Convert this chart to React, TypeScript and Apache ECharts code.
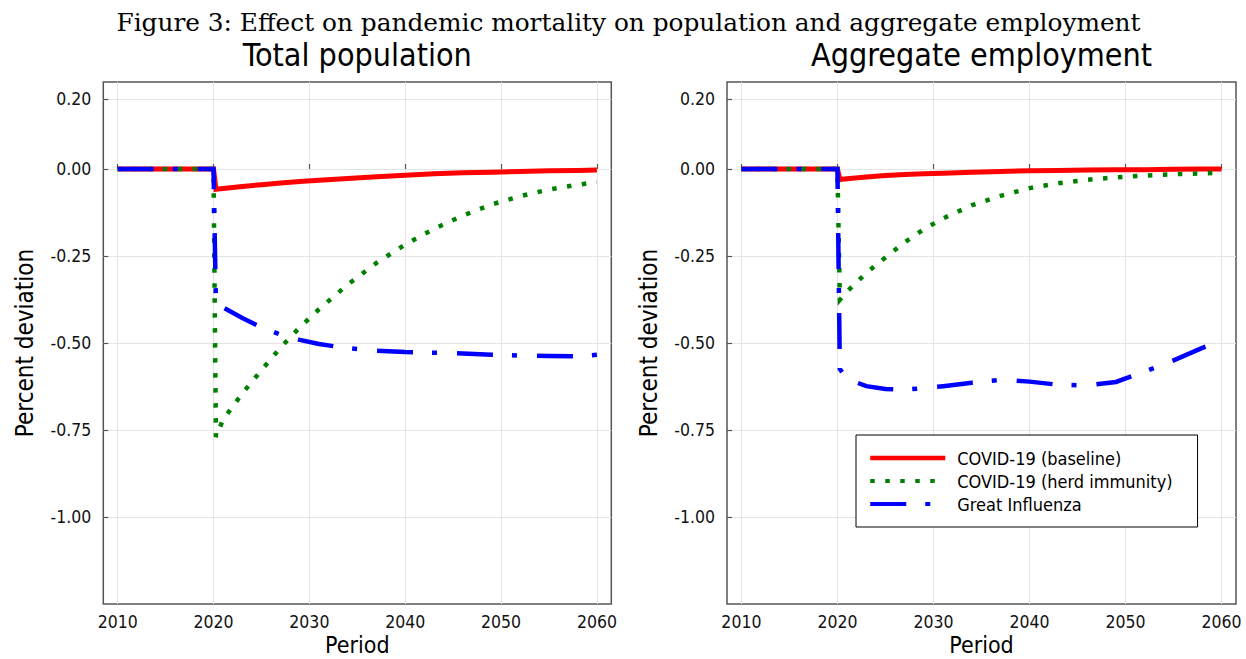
import React, { useEffect, useRef } from 'react';
import * as echarts from 'echarts';

const FIG_TITLE = 'Figure 3: Effect on pandemic mortality on population and aggregate employment';
const PANEL_TITLES = ['Total population', 'Aggregate employment'];
const SERIES_NAMES = ['COVID-19 (baseline)', 'COVID-19 (herd immunity)', 'Great Influenza'];
const X_NAME = 'Period';
const Y_NAME = 'Percent deviation';
const X_TICKS = [2010, 2020, 2030, 2040, 2050, 2060];
const Y_TICKS = [-1, -0.75, -0.5, -0.25, 0, 0.2];

const YEARS = [2010, 2020, 2020.25, 2021, 2023, 2025, 2027, 2029, 2031, 2034, 2037, 2040, 2043, 2046, 2049, 2052, 2055, 2058, 2060];

// Total population
const popBaseline = [0, 0, -0.058, -0.056, -0.050, -0.045, -0.040, -0.036, -0.032, -0.027, -0.022, -0.018, -0.014, -0.011, -0.009, -0.007, -0.005, -0.004, -0.003];
const popHerd = [0, 0, -0.770, -0.720, -0.645, -0.578, -0.513, -0.455, -0.403, -0.332, -0.270, -0.217, -0.172, -0.134, -0.102, -0.078, -0.059, -0.045, -0.038];
const popFlu = [0, 0, -0.385, -0.398, -0.428, -0.455, -0.476, -0.491, -0.503, -0.515, -0.522, -0.526, -0.528, -0.530, -0.534, -0.536, -0.537, -0.538, -0.534];

// Aggregate employment
const empBaseline = [0, 0, -0.030, -0.028, -0.023, -0.019, -0.016, -0.014, -0.012, -0.009, -0.007, -0.005, -0.004, -0.003, -0.002, -0.002, -0.001, 0.0, 0.0];
const empHerd = [0, 0, -0.376, -0.352, -0.299, -0.254, -0.211, -0.173, -0.142, -0.104, -0.077, -0.055, -0.041, -0.031, -0.024, -0.019, -0.015, -0.0125, -0.011];
const empFlu = [0, 0, -0.575, -0.603, -0.624, -0.632, -0.634, -0.630, -0.624, -0.614, -0.606, -0.611, -0.620, -0.622, -0.612, -0.582, -0.550, -0.514, -0.493];

const PANELS = [
  [popBaseline, popHerd, popFlu],
  [empBaseline, empHerd, empFlu],
];

const SANS = "'DejaVu Sans Condensed', 'DejaVu Sans', sans-serif";
const SERIF = "'DejaVu Serif', serif";
const COLORS = ['#ff0000', '#008000', '#0000ff'];
const WIDTHS = [5, 4.5, 4.5];
const DASHES: any[] = ['solid', [4.5, 10.5], [36, 19, 5, 20]];
const FRAME = '#555555';
const GRIDLINE = '#e4e4e4';

const GRIDS = [
  { left: 103.3, top: 82, width: 508, height: 522 },
  { left: 727, top: 82, width: 509, height: 522 },
];

function buildOption() {
  const grid = GRIDS.map((g) => ({
    ...g,
    show: true,
    borderColor: FRAME,
    borderWidth: 1.5,
    backgroundColor: 'transparent',
    outerBoundsMode: 'none',
    containLabel: false,
  }));

  const xAxis = GRIDS.map((_, i) => ({
    type: 'value',
    gridIndex: i,
    min: 2008.5,
    max: 2061.5,
    name: X_NAME,
    nameLocation: 'middle',
    nameGap: 31,
    nameMoveOverlap: false,
    nameTextStyle: { fontFamily: SANS, fontSize: 23, lineHeight: 20, color: '#000' },
    axisLine: { show: false },
    axisTick: {
      show: true,
      inside: true,
      length: 5,
      customValues: X_TICKS,
      lineStyle: { color: FRAME, width: 1.2 },
    },
    axisLabel: {
      customValues: X_TICKS,
      margin: 9,
      fontFamily: SANS,
      fontSize: 17.5,
      color: '#111',
      formatter: (v: number) => String(v),
    },
    splitLine: { show: true, lineStyle: { color: GRIDLINE, width: 1 } },
  }));

  const yAxis = GRIDS.map((_, i) => ({
    type: 'value',
    gridIndex: i,
    min: -1.25,
    max: 0.25,
    name: Y_NAME,
    nameLocation: 'middle',
    nameGap: 66,
    nameMoveOverlap: false,
    nameTextStyle: { fontFamily: SANS, fontSize: 24, color: '#000' },
    axisLine: { show: false },
    axisTick: {
      show: true,
      inside: true,
      length: 5,
      customValues: Y_TICKS,
      lineStyle: { color: FRAME, width: 1.2 },
    },
    axisLabel: {
      customValues: Y_TICKS,
      margin: 12,
      fontFamily: SANS,
      fontSize: 17.5,
      color: '#111',
      formatter: (v: number) => v.toFixed(2),
    },
    splitLine: { show: true, lineStyle: { color: GRIDLINE, width: 1 } },
  }));

  const series: any[] = [];
  PANELS.forEach((panel, p) => {
    panel.forEach((vals, s) => {
      series.push({
        type: 'line',
        name: SERIES_NAMES[s],
        xAxisIndex: p,
        yAxisIndex: p,
        data: YEARS.map((yr, k) => [yr, vals[k]]),
        showSymbol: false,
        symbol: 'none',
        smooth: false,
        lineStyle: { color: COLORS[s], width: WIDTHS[s], type: DASHES[s], cap: 'butt', join: 'miter' },
        itemStyle: { color: COLORS[s] },
        emphasis: { disabled: true },
        z: 2 + s,
      });
    });
  });

  return {
    animation: false,
    backgroundColor: '#ffffff',
    title: [
      {
        text: FIG_TITLE,
        left: 628.5,
        top: 22.5,
        textAlign: 'center',
        textVerticalAlign: 'middle',
        padding: 0,
        textStyle: { fontFamily: SERIF, fontSize: 24.8, fontWeight: 'normal', color: '#000' },
      },
      ...PANEL_TITLES.map((t, i) => ({
        text: t,
        left: GRIDS[i].left + GRIDS[i].width / 2,
        top: 55,
        textAlign: 'center',
        textVerticalAlign: 'middle',
        padding: 0,
        textStyle: { fontFamily: SANS, fontSize: 32, fontWeight: 'normal', color: '#000' },
      })),
    ],
    legend: {
      data: SERIES_NAMES.map((n, s) => ({
        name: n,
        itemStyle: { opacity: 0 },
        lineStyle: { color: COLORS[s], width: WIDTHS[s] - 0.5, type: DASHES[s], cap: 'butt' },
      })),
      orient: 'vertical',
      left: 856,
      top: 435,
      padding: [14, 25, 14, 12],
      itemWidth: 75,
      itemHeight: 14,
      itemGap: 5,
      borderColor: '#000',
      borderWidth: 1,
      backgroundColor: '#ffffff',
      selectedMode: false,
      textStyle: { fontFamily: SANS, fontSize: 18, color: '#000', padding: [0, 0, 0, 7] },
    },
    grid,
    xAxis,
    yAxis,
    series,
  };
}

export default function App() {
  const ref = useRef<HTMLDivElement>(null);
  useEffect(() => {
    if (!ref.current) return;
    const chart = echarts.init(ref.current, null, { renderer: 'svg' });
    chart.setOption(buildOption() as any);
    return () => chart.dispose();
  }, []);
  return (
    <div
      ref={ref}
      style={{ position: 'fixed', left: 0, top: 0, width: 1246, height: 659, background: '#fff' }}
    />
  );
}
